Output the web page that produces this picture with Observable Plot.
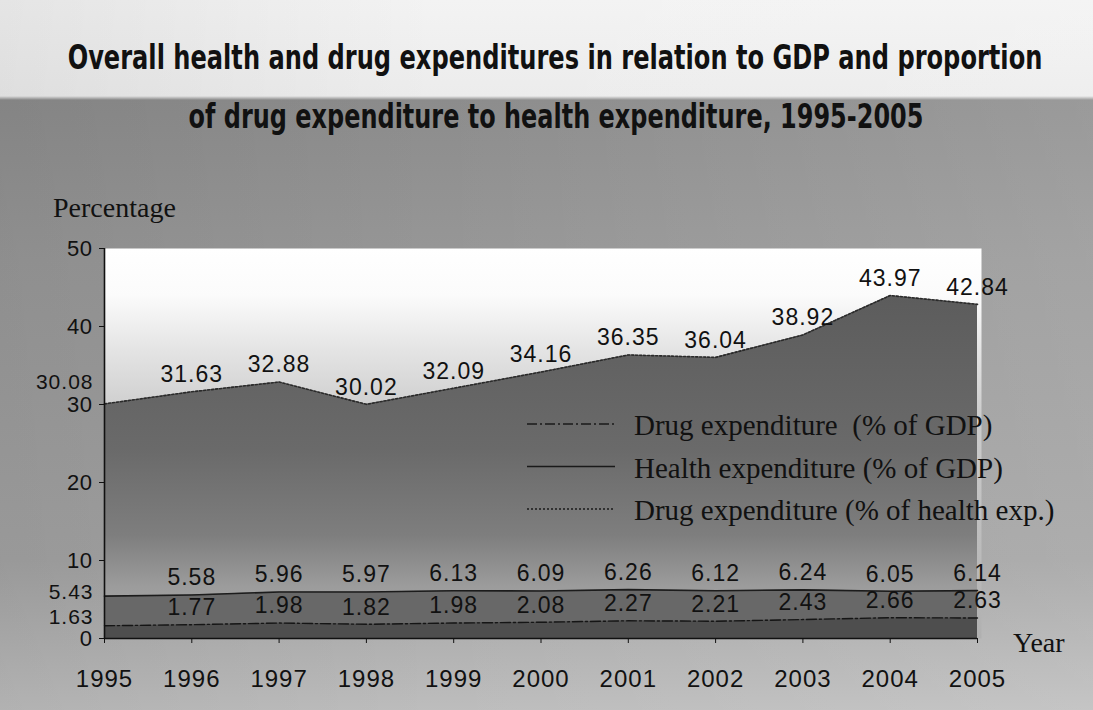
<!DOCTYPE html>
<html>
<head>
<meta charset="utf-8">
<script src="https://cdn.jsdelivr.net/npm/d3@7"></script>
<script src="https://cdn.jsdelivr.net/npm/@observablehq/plot@0.6"></script>
<style>
  html, body { margin: 0; padding: 0; }
  body {
    width: 1093px; height: 710px; overflow: hidden;
    background:
      linear-gradient(to right, rgba(0,0,0,0.06), rgba(255,255,255,0) 40%, rgba(255,255,255,0.12)),
      linear-gradient(to bottom, #f3f3f3 0px, #ececec 96px, #8c8c8c 100px, #979797 260px, #a2a2a2 560px, #bdbdbd 710px);
  }
  #title { display: block; }
  #chart svg g[aria-label="text"] text { letter-spacing: 1px; }
  #chart svg g[aria-label="x-axis tick label"] text { letter-spacing: 1px; }
  #chart svg g[aria-label="y-axis tick label"] text { letter-spacing: 0.5px; }
</style>
</head>
<body>
<svg id="title" width="1093" height="160">
  <g font-family="'DejaVu Sans', 'Liberation Sans', sans-serif" font-weight="bold" font-size="34" fill="#111" text-anchor="middle">
    <text data-cx="555" data-cy="69" data-w="975">Overall health and drug expenditures in relation to GDP and proportion</text>
    <text data-cx="556" data-cy="128" data-w="735">of drug expenditure to health expenditure, 1995-2005</text>
  </g>
</svg>
<div id="chart"></div>
<script>
// Years on the horizontal axis
const years = [1995, 1996, 1997, 1998, 1999, 2000, 2001, 2002, 2003, 2004, 2005];
// Drug expenditure as % of health expenditure
const drugHealthPct = [30.08, 31.63, 32.88, 30.02, 32.09, 34.16, 36.35, 36.04, 38.92, 43.97, 42.84];
// Health expenditure as % of GDP
const healthGdp = [5.43, 5.58, 5.96, 5.97, 6.13, 6.09, 6.26, 6.12, 6.24, 6.05, 6.14];
// Drug expenditure as % of GDP
const drugGdp = [1.63, 1.77, 1.98, 1.82, 1.98, 2.08, 2.27, 2.21, 2.43, 2.66, 2.63];
// Vertical axis ticks
const yTicks = [0, 10, 20, 30, 40, 50];
// Legend entries
const legendLabels = [
  "Drug expenditure  (% of GDP)",
  "Health expenditure (% of GDP)",
  "Drug expenditure (% of health exp.)"
];

// condensed title: squeeze each line horizontally to its set width
document.querySelectorAll("#title text").forEach(t => {
  const natural = t.getComputedTextLength();
  const k = +t.dataset.w / natural;
  t.setAttribute("transform", `translate(${t.dataset.cx},${t.dataset.cy}) scale(${k},1)`);
});

const rows = years.map((year, i) => ({
  year,
  drugHealth: drugHealthPct[i],
  health: healthGdp[i],
  drug: drugGdp[i]
}));

const fmt = v => v.toFixed(2);
const first = rows.filter(d => d.year === years[0]);
const rest = rows.filter(d => d.year !== years[0]);

// value labels: inner points sit above the line, the first point's value sits left of the axis
const labelMarks = [
  ["drugHealth", -22],
  ["health", -4],
  ["drug", -9]
].flatMap(([key, firstDy]) => [
  Plot.text(rest, {x: "year", y: key, text: d => fmt(d[key]), dy: -17, lineAnchor: "middle",
    fontSize: 23, fill: "#111"}),
  Plot.text(first, {x: "year", y: key, text: d => fmt(d[key]), textAnchor: "end", dx: -11, dy: firstDy,
    lineAnchor: "middle", fontSize: 21, fill: "#111"})
]);

const chart = Plot.plot({
  width: 1093,
  height: 550,
  marginLeft: 104,
  marginRight: 116,
  marginTop: 88,
  marginBottom: 72,
  style: {background: "transparent", fontFamily: "'Liberation Sans', Arial, sans-serif", color: "#111"},
  x: {domain: [1995, 2005]},
  y: {domain: [0, 50]},
  marks: [
    Plot.frame({fill: "url(#plotBg)", stroke: "none", insetRight: -4}),
    Plot.areaY(rows, {x: "year", y: "drugHealth", fill: "url(#bigFill)"}),
    Plot.areaY(rows, {x: "year", y: "health", fill: "#686868"}),
    Plot.areaY(rows, {x: "year", y: "drug", fill: "#4e4e4e"}),
    Plot.lineY(rows, {x: "year", y: "drugHealth", stroke: "#2a2a2a", strokeWidth: 1.6, strokeDasharray: "2,2"}),
    Plot.lineY(rows, {x: "year", y: "health", stroke: "#1c1c1c", strokeWidth: 1.6}),
    Plot.lineY(rows, {x: "year", y: "drug", stroke: "#151515", strokeWidth: 1.4, strokeDasharray: "10,3,2,3"}),
    Plot.ruleY([0], {stroke: "#111", strokeWidth: 1.6}),
    Plot.ruleX([1995], {stroke: "#111", strokeWidth: 1.6}),
    Plot.axisX({ticks: years, tickFormat: d => `${d}`, tickSize: 5, tickPadding: 26, fontSize: 24,
      label: null, stroke: "#111", fill: "#111"}),
    Plot.axisY({ticks: yTicks, tickSize: 5, tickPadding: 7, fontSize: 22, label: null,
      stroke: "#111", fill: "#111"}),
    ...labelMarks
  ]
});

document.getElementById("chart").appendChild(chart);

const svg = d3.select(chart);

// gradients for the plot background and the large area
const defs = svg.insert("defs", ":first-child");
const bg = defs.append("linearGradient").attr("id", "plotBg").attr("x1", 0).attr("y1", 0).attr("x2", 0).attr("y2", 1);
[[0, "#ffffff"], [0.12, "#fbfbfb"], [0.26, "#e4e4e4"], [0.42, "#cdcdcd"], [1, "#b0b0b0"]]
  .forEach(([o, c]) => bg.append("stop").attr("offset", o).attr("stop-color", c));
const big = defs.append("linearGradient").attr("id", "bigFill").attr("x1", 0).attr("y1", 0).attr("x2", 0).attr("y2", 1);
[[0, "#5c5c5c"], [0.45, "#6a6a6a"], [0.7, "#7e7e7e"], [0.85, "#9c9c9c"], [1, "#a6a6a6"]]
  .forEach(([o, c]) => big.append("stop").attr("offset", o).attr("stop-color", c));

// axis titles
const serif = "'Liberation Serif', 'Times New Roman', serif";
svg.append("text").attr("x", 53).attr("y", 57).attr("text-anchor", "start").attr("font-family", serif)
  .attr("font-size", 28).attr("fill", "#111").text("Percentage");
svg.append("text").attr("x", 1013).attr("y", 492).attr("text-anchor", "start").attr("font-family", serif)
  .attr("font-size", 28).attr("fill", "#111").text("Year");

// legend
const dashes = ["10,3,2,3", null, "2,2"];
const legend = svg.append("g").attr("font-family", serif).attr("font-size", 29).attr("fill", "#111")
  .attr("text-anchor", "start");
legendLabels.forEach((label, i) => {
  const base = 275 + i * 42.5;
  legend.append("line").attr("x1", 527).attr("x2", 615).attr("y1", base - 11).attr("y2", base - 11)
    .attr("stroke", "#1a1a1a").attr("stroke-width", 1.3).attr("stroke-dasharray", dashes[i]);
  legend.append("text").attr("x", 634).attr("y", base).attr("xml:space", "preserve")
    .style("white-space", "pre").text(label);
});
</script>
</body>
</html>
